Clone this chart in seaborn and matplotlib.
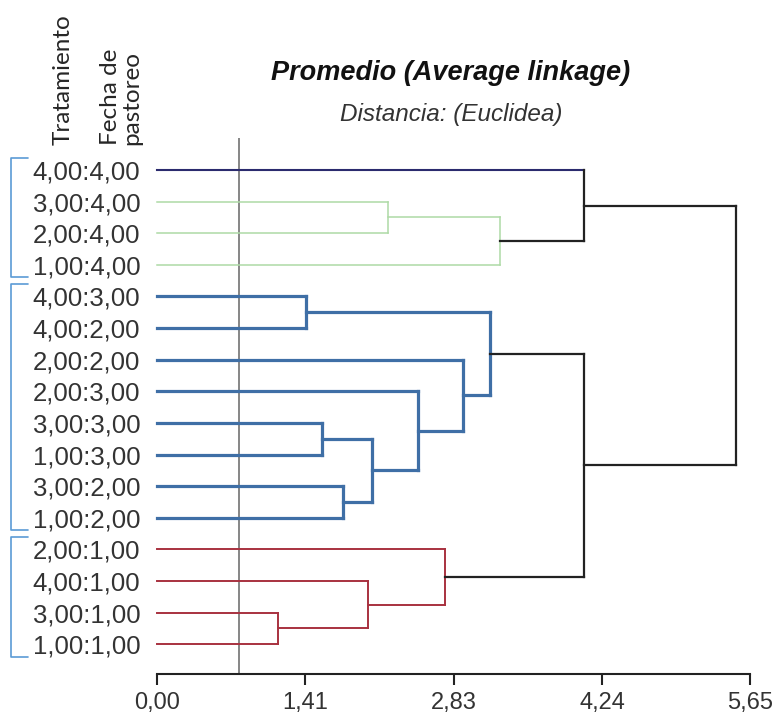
import numpy as np
import pandas as pd
import matplotlib.pyplot as plt
import seaborn as sns

# Leaves, top to bottom (Tratamiento:Fecha de pastoreo)
hojas = ["4,00:4,00", "3,00:4,00", "2,00:4,00", "1,00:4,00",
         "4,00:3,00", "4,00:2,00", "2,00:2,00", "2,00:3,00",
         "3,00:3,00", "1,00:3,00", "3,00:2,00", "1,00:2,00",
         "2,00:1,00", "4,00:1,00", "3,00:1,00", "1,00:1,00"]
grupo_hoja = ["navy", "verde", "verde", "verde",
              "azul", "azul", "azul", "azul", "azul", "azul", "azul", "azul",
              "rojo", "rojo", "rojo", "rojo"]

# Linkage: merge k creates cluster 16 + k
union_izq = [1, 16, 4, 8, 10, 19, 7, 6, 18, 14, 13, 12, 0, 24, 28]
union_der = [2, 3, 5, 9, 11, 20, 21, 22, 23, 15, 25, 26, 17, 27, 29]
union_dist = [2.20, 3.27, 1.42, 1.57, 1.77, 2.05, 2.49, 2.92, 3.17,
              1.15, 2.01, 2.74, 4.07, 4.07, 5.52]
union_grupo = ["verde", "verde", "azul", "azul", "azul", "azul", "azul", "azul",
               "azul", "rojo", "rojo", "rojo", "negro", "negro", "negro"]

grupos_corchete = [(0, 3), (4, 11), (12, 15)]
corte = 0.78
xticks = [0.00, 1.41, 2.83, 4.24, 5.65]
xtick_labels = ["0,00", "1,41", "2,83", "4,24", "5,65"]

colores = {"navy": "#2b2b6e", "verde": "#aedaa6", "azul": "#3f6fa6",
           "rojo": "#a8313f", "negro": "#222222"}
grosores = {"navy": 1.5, "verde": 1.1, "azul": 2.3, "rojo": 1.4, "negro": 1.6}

# build segments of the dendrogram
n = len(hojas)
pos = {i: float(i) for i in range(n)}
alt = {i: 0.0 for i in range(n)}
filas = []
seg = 0
for k, (a, b, h, g) in enumerate(zip(union_izq, union_der, union_dist, union_grupo)):
    for hijo in (a, b):
        col = grupo_hoja[hijo] if hijo < n else g
        filas += [(seg, alt[hijo], pos[hijo], col), (seg, h, pos[hijo], col)]
        seg += 1
    filas += [(seg, h, pos[a], g), (seg, h, pos[b], g)]
    seg += 1
    pos[n + k] = (pos[a] + pos[b]) / 2
    alt[n + k] = h
df = pd.DataFrame(filas, columns=["seg", "x", "y", "grupo"])

sns.set_theme(style="white")
plt.rcParams['font.family'] = ['Liberation Sans', 'DejaVu Sans']

fig = plt.figure(figsize=(7.78, 7.15), dpi=100)
ax = fig.add_axes([157 / 778, 41 / 715, 593 / 778, 536 / 715])

sns.lineplot(data=df, x="x", y="y", units="seg", estimator=None, hue="grupo",
             size="grupo", palette=colores, sizes=grosores, sort=False,
             legend=False, ax=ax, solid_capstyle="projecting", clip_on=False)

ax.axvline(corte, color="#666666", lw=1.1, zorder=0)

ax.set_xlim(0, 5.65)
ax.set_ylim(15.94, -1.01)
ax.set_xlabel("")
ax.set_ylabel("")

ax.set_yticks(range(n))
ax.set_yticklabels(hojas, fontsize=18.5, color="#333333")
ax.tick_params(axis="y", length=0, pad=12)

ax.set_xticks(xticks)
ax.set_xticklabels(xtick_labels, fontsize=17, color="#333333")
ax.tick_params(axis="x", bottom=True, direction="out", length=8, width=1.5,
               color="#222222", pad=5)

for s in ["left", "top", "right"]:
    ax.spines[s].set_visible(False)
ax.spines["bottom"].set_linewidth(1.5)
ax.spines["bottom"].set_color("#222222")
ax.spines["bottom"].set_bounds(0, 5.65)

# light blue brackets grouping the leaves
for ini, fin in grupos_corchete:
    ax.plot([-1.23, -1.39, -1.39, -1.23],
            [ini - 0.38, ini - 0.38, fin + 0.4, fin + 0.4],
            color="#5b9bd5", lw=1.2, clip_on=False)

fig.text(451 / 778, 1 - 73 / 715, "Promedio (Average linkage)", fontsize=19.5,
         fontweight="bold", fontstyle="italic", ha="center", va="center",
         color="#111111")
fig.text(451 / 778, 1 - 115 / 715, "Distancia: (Euclidea)", fontsize=17.5,
         fontstyle="italic", ha="center", va="center", color="#333333")

fig.text(63 / 778, 1 - 145 / 715, "Tratamiento", rotation=90, fontsize=17.5,
         family=["Lato", "DejaVu Sans"], ha="center", va="bottom")
fig.text(121 / 778, 1 - 145 / 715, "Fecha de\npastoreo", rotation=90,
         fontsize=17.5, family=["Lato", "DejaVu Sans"], ha="center",
         va="bottom", multialignment="left", linespacing=1.0)

fig.savefig("out.png", dpi=100)
